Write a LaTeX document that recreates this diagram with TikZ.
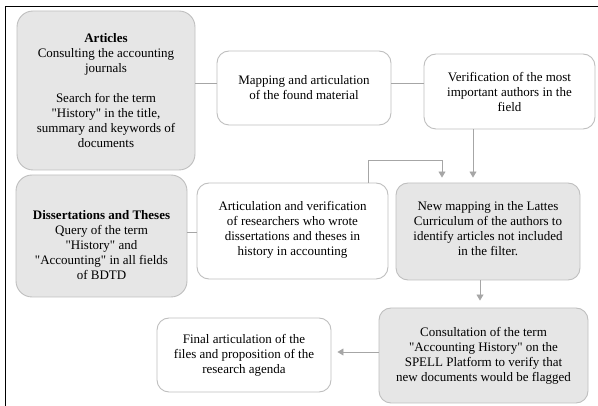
\documentclass[tikz,border=0pt]{standalone}
\usepackage{fontspec}
\IfFontExistsTF{LiberationSerif-Regular.ttf}
  {\setmainfont{LiberationSerif-Regular.ttf}[BoldFont=LiberationSerif-Bold.ttf,Ligatures=TeXOff]}
  {\setmainfont{Liberation Serif}[Ligatures=TeXOff]}
\usetikzlibrary{arrows.meta}
\definecolor{boxfill}{HTML}{E6E6E6}
\definecolor{boxline}{HTML}{BFBFBF}
\definecolor{linkgray}{HTML}{A6A6A6}
% pushes the text of a box down (positive) or up (negative) by about half of #1
\newcommand{\lowerby}[1]{\rule{0pt}{\dimexpr 12pt+#1\relax}}
\newcommand{\raiseby}[1]{\rule[-#1]{0pt}{0pt}}

\begin{document}
\begin{tikzpicture}[x=1pt,y=-1pt,>={Triangle[width=7pt,length=6pt]},
  box/.style={draw=boxline,line width=0.9pt,fill=white,rounded corners=12pt,
    align=center,inner sep=0pt,font=\rmfamily\fontsize{13}{15}\selectfont},
  greybox/.style={box,fill=boxfill},
  link/.style={draw=linkgray,line width=0.9pt},
  flow/.style={link,->,shorten >=5pt}]

  \useasboundingbox (0,0) rectangle (598,406);
  \draw[line width=1pt] (5,406) -- (5,7) -- (598,7);

  \node[greybox,rounded corners=16pt,minimum width=178pt,minimum height=159pt] (Art) at (106,90.5)
    {\textbf{Articles}\\Consulting the accounting\\journals\\[15pt]Search for the term\\"History" in the title,\\summary and keywords of\\documents};
  \node[box,minimum width=174pt,minimum height=74pt] (Map) at (304,88)
    {Mapping and articulation\\of the found material};
  \node[box,minimum width=171pt,minimum height=75pt] (Ver) at (509.5,91.5)
    {Verification of the most\\important authors in the\\field};
  \node[greybox,rounded corners=16pt,minimum width=171pt,minimum height=122pt] (Dis) at (101.5,236)
    {\lowerby{16pt}\textbf{Dissertations and Theses}\\Query of the term\\"History" and\\"Accounting" in all fields\\of BDTD};
  \node[box,minimum width=191pt,minimum height=96pt] (Res) at (292.5,231)
    {Articulation and verification\\of researchers who wrote\\dissertations and theses in\\history in accounting\raiseby{6pt}};
  \node[greybox,minimum width=184pt,minimum height=97pt] (Lat) at (488,231.5)
    {New mapping in the Lattes\\Curriculum of the authors to\\identify articles not included\\in the filter.\raiseby{6pt}};
  \node[greybox,minimum width=209pt,minimum height=95pt] (Spell) at (483.5,355.5)
    {Consultation of the term\\"Accounting History" on the\\SPELL Platform to verify that\\new documents would be flagged};
  \node[box,minimum width=174pt,minimum height=74pt] (Fin) at (244,355)
    {Final articulation of the\\files and proposition of the\\research agenda};

  % plain links
  \draw[link] (Art.east |- 0,83) -- (Map.west |- 0,83);
  \draw[link] (Map.east |- 0,83) -- (Ver.west |- 0,83);
  \draw[link] (Dis.east |- 0,232) -- (Res.west |- 0,232);

  % arrows
  \draw[flow] (Res.north -| 368,0) -- ++(0,-22) -| (Lat.north -| 442,0);
  \draw[flow] (Ver.south -| 473,0) -- (Lat.north -| 473,0);
  \draw[flow,shorten >=7pt] (Lat.south -| 480,0) -- (Spell.north -| 480,0);
  \draw[flow,shorten >=6pt] (Spell.west |- 0,352) -- (Fin.east |- 0,352);
\end{tikzpicture}
\end{document}
